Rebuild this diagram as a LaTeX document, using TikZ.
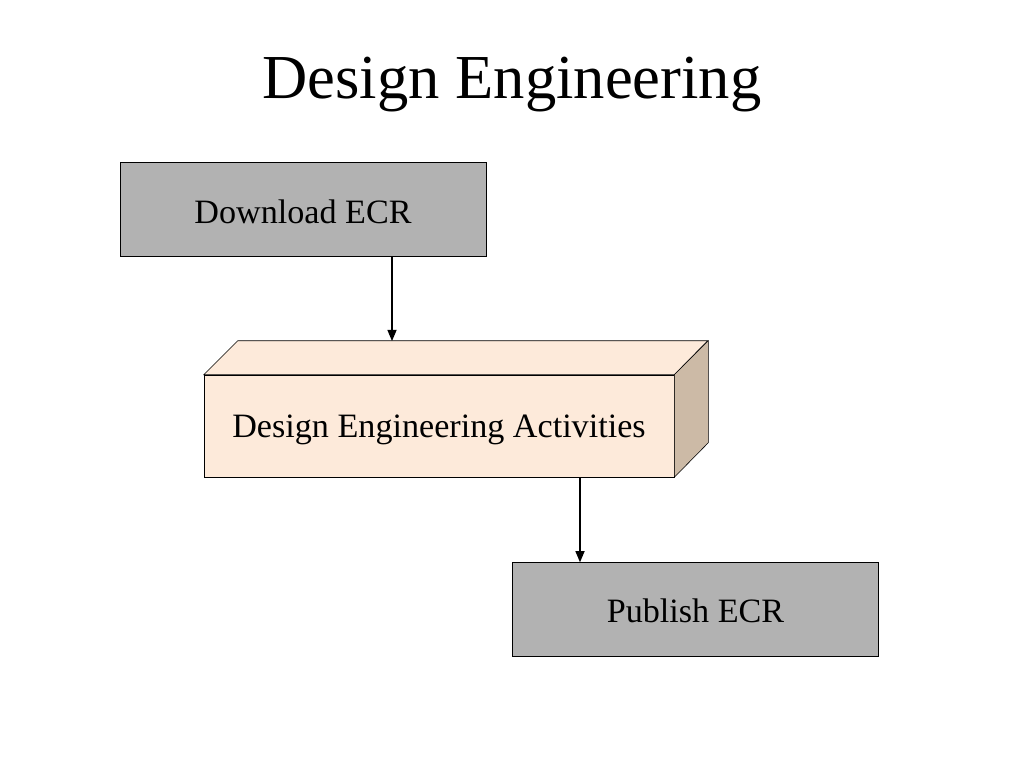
\documentclass[tikz,border=0pt]{standalone}
\usepackage{fontspec}
\setmainfont{Liberation Serif}
\usetikzlibrary{arrows}

\definecolor{boxgray}{RGB}{178,178,178}
\definecolor{actfront}{RGB}{253,234,218}
\definecolor{actside}{RGB}{204,186,166}

\begin{document}
\begin{tikzpicture}[>=triangle 45,x=0.703125pt,y=-0.703125pt,
	graybox/.style={draw,fill=boxgray,minimum width=257.3pt,minimum height=66.1pt,font=\fontsize{24}{28}\selectfont},
	actbox/.style={draw,fill=actfront,minimum width=330.5pt,minimum height=71.7pt,font=\fontsize{24}{28}\selectfont}]
		\useasboundingbox (0,0) rectangle (1024,768);
		\node (title) at (512,85) {\fontsize{44}{53}\selectfont Design Engineering};
		\node[graybox] (dl) at (303,209) {};
		\node[font=\fontsize{24}{28}\selectfont] (dltext) at (303,212) {Download ECR};
		\node[actbox] (act) at (439,426) {};
		\draw[fill=actfront] (act.north west) -- ++(34,-34) -- ++(470,0) -- (act.north east) -- cycle;
		\draw[fill=actside] (act.north east) -- ++(34,-34) -- ++(0,102) -- (act.south east) -- cycle;
		\node[font=\fontsize{24}{28}\selectfont] (acttext) at (439,430) {Design Engineering Activities};
		\node[graybox] (pub) at (695.5,609.5) {};
		\node[font=\fontsize{24}{28}\selectfont] (pubtext) at (695.5,611) {Publish ECR};
		\coordinate (in1) at (392,341);
		\coordinate (out2) at (580,477);
		\draw[->,line width=0.8pt] (dl.south -| in1) -- (in1);
		\draw[->,line width=0.8pt] (out2) -- (pub.north -| out2);
	\end{tikzpicture}
\end{document}
